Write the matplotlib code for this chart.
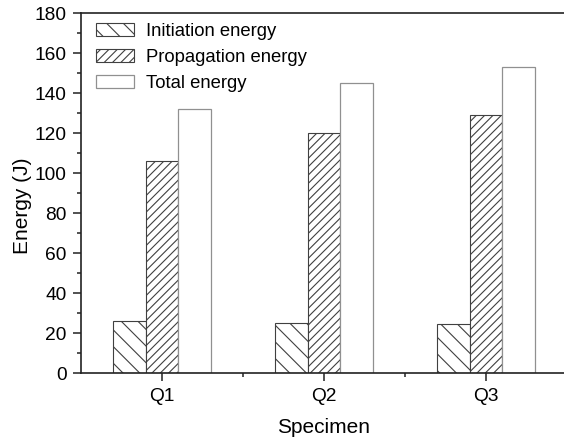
import matplotlib
matplotlib.use("Agg")
import matplotlib.pyplot as plt
import numpy as np
from matplotlib.ticker import MultipleLocator, FixedLocator

plt.rcParams['font.family'] = ['Liberation Sans', 'DejaVu Sans']
plt.rcParams['hatch.linewidth'] = 0.8

specimens = ["Q1", "Q2", "Q3"]
initiation = [26, 25, 24.5]
propagation = [106, 120, 129]
total = [132, 145, 153]
series_labels = ["Initiation energy", "Propagation energy", "Total energy"]

fig = plt.figure(figsize=(5.64, 4.40), dpi=100)
ax = fig.add_axes([81/564, 67/440, (567-81)/564, (373-13)/440])

x = np.arange(1, len(specimens) + 1)
w = 0.2
ax.bar(x - w, initiation, w, facecolor='white', edgecolor='#404040', hatch='\\\\', linewidth=0.8, label=series_labels[0])
ax.bar(x, propagation, w, facecolor='white', edgecolor='#404040', hatch='////', linewidth=0.8, label=series_labels[1])
ax.bar(x + w, total, w, facecolor='white', edgecolor='#909090', linewidth=0.9, label=series_labels[2])

ax.set_xlim(0.5, 3.5)
ax.set_ylim(0, 180)
ax.set_xticks(x)
ax.set_xticklabels(specimens)
ax.xaxis.set_minor_locator(FixedLocator([1.5, 2.5]))
ax.yaxis.set_major_locator(MultipleLocator(20))
ax.yaxis.set_minor_locator(MultipleLocator(10))

for s in ax.spines.values():
    s.set_linewidth(1.2)
    s.set_color('#222222')
ax.tick_params(which='major', direction='out', length=6, width=1.1, labelsize=13.8, pad=4.5, colors='#222222', labelcolor='black')
ax.tick_params(which='minor', direction='out', length=3, width=1.1, colors='#222222')

ax.set_xlabel("Specimen", fontsize=15, labelpad=10)
ax.set_ylabel("Energy (J)", fontsize=15)
ax.yaxis.set_label_coords(-0.101, 0.465)

ax.legend(loc='upper left', bbox_to_anchor=(96/564, 1 - 23/440), bbox_transform=fig.transFigure,
          frameon=False, fontsize=13.3, handlelength=2.05, handleheight=0.7,
          handletextpad=0.65, labelspacing=0.48, borderpad=0, borderaxespad=0)

fig.savefig("out.png", dpi=100)
